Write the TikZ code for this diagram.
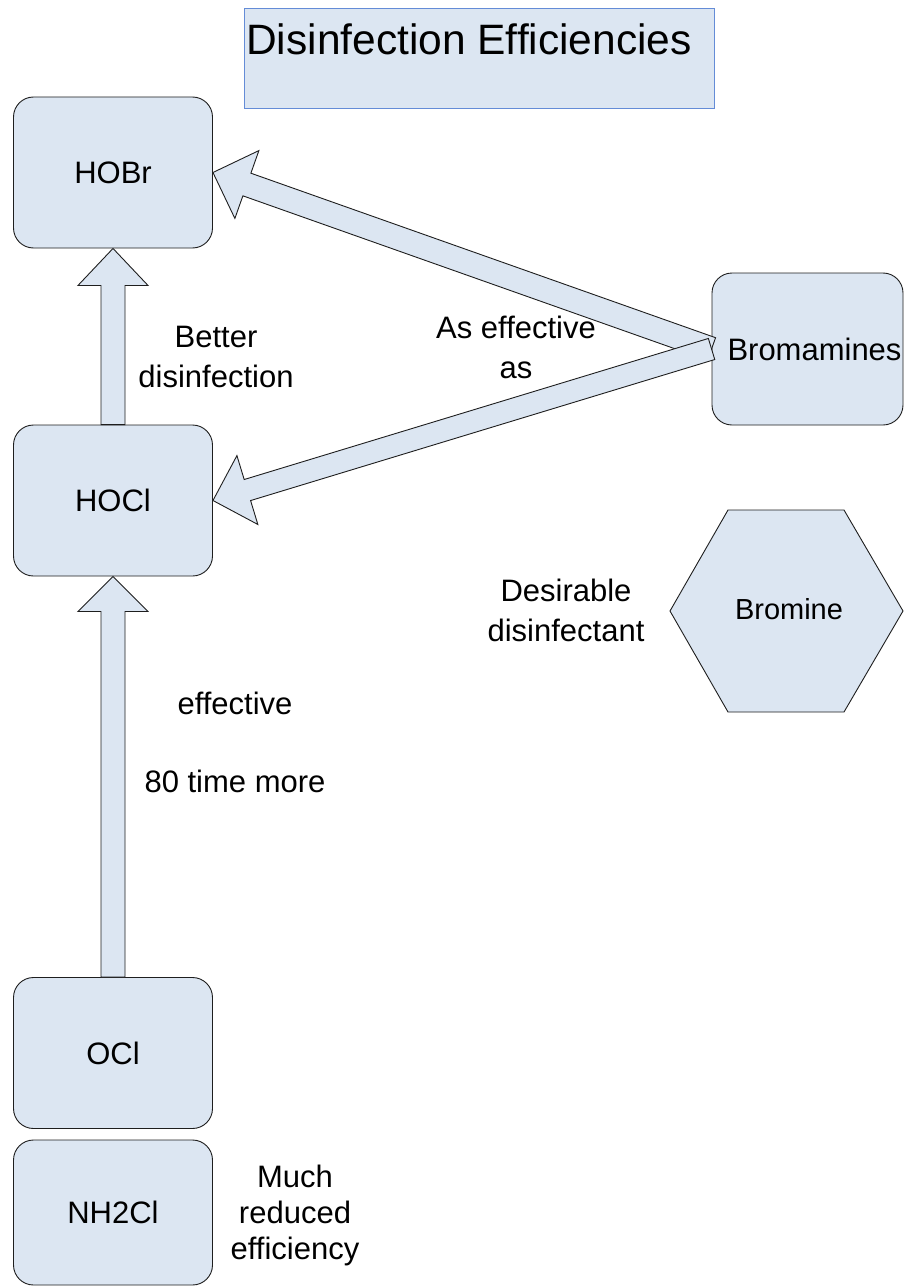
\documentclass[tikz,border=0pt]{standalone}
\usepackage{fontspec}
\setmainfont{Liberation Sans}
\usetikzlibrary{calc}

\definecolor{boxblue}{RGB}{220,230,242}
\definecolor{titleline}{RGB}{100,140,215}
\definecolor{edgegray}{RGB}{30,30,30}

\tikzset{
  chem/.style={draw=edgegray, fill=boxblue, line width=0.9pt, rounded corners=20pt,
    minimum width=199pt, minimum height=151pt, inner sep=0pt,
    font=\fontsize{31}{36}\selectfont},
  note/.style={align=center, inner sep=0pt, font=\fontsize{31}{40}\selectfont},
  blockarrow/.style={draw=edgegray, fill=boxblue, line width=0.9pt, line join=miter},
}

% broad block arrow: from #1 to the tip #2; shaft half width #3,
% head half width #4, head length #5
\newcommand\blockconnector[5]{%
  \path ($(#2)!#5!(#1)$) coordinate (hb);
  \draw[blockarrow] ($(#1)!#3!90:(#2)$) -- ($(hb)!#3!90:(#2)$)
    -- ($(hb)!#4!90:(#2)$) -- (#2) -- ($(hb)!#4!-90:(#2)$)
    -- ($(hb)!#3!-90:(#2)$) -- ($(#1)!#3!-90:(#2)$) -- cycle;
}

\begin{document}
\begin{tikzpicture}[x=1pt,y=-1pt]
\useasboundingbox (0,0) rectangle (904,1287);

% title
\draw[titleline, fill=boxblue, line width=0.9pt] (244,8) rectangle (714,108);
\node[anchor=base west, inner sep=0pt, font=\fontsize{42.5}{50}\selectfont] (title) at (246,55) {Disinfection Efficiencies};

% species
\node[chem] (hobr) at (113,172.5) {HOBr};
\node[chem] (hocl) at (113,500.5) {HOCl};
\node[chem] (ocl) at (113,1053) {OCl};
\node[chem, minimum height=145pt] (nhcl) at (113,1212.5) {NH2Cl};
\node[chem, minimum width=191pt, minimum height=152pt] (bromamines) at (807.5,349) {\hspace*{14pt}Bromamines};

% bromine hexagon
\draw[draw=edgegray, fill=boxblue, line width=0.9pt, line join=miter]
  (670,611) -- (728,510) -- (844,510) -- (903,611) -- (844,712) -- (728,712) -- cycle;
\node[inner sep=0pt, font=\fontsize{29}{34}\selectfont] (bromine) at (789,609) {Bromine};

% connectors
\blockconnector{hocl.north}{hobr.south}{12pt}{35pt}{37pt}
\blockconnector{ocl.north}{hocl.south}{12pt}{35pt}{35pt}
\blockconnector{bromamines.west}{hobr.east}{12pt}{36pt}{36pt}
\blockconnector{bromamines.west}{hocl.east}{11pt}{36pt}{36pt}

% annotations
\node[note] (better) at (216,357) {Better\\disinfection};
\node[note] (aseff) at (516,347) {As effective\\as};
\node[note] (desirable) at (566,610) {Desirable\\disinfectant};
\node[note, anchor=base] (effective) at (235,714) {effective};
\node[note, anchor=base] (times) at (235,792) {80 time more};
\node[note, font=\fontsize{31}{36}\selectfont] (reduced) at (295,1215) {Much\\reduced\\efficiency};
\end{tikzpicture}
\end{document}
